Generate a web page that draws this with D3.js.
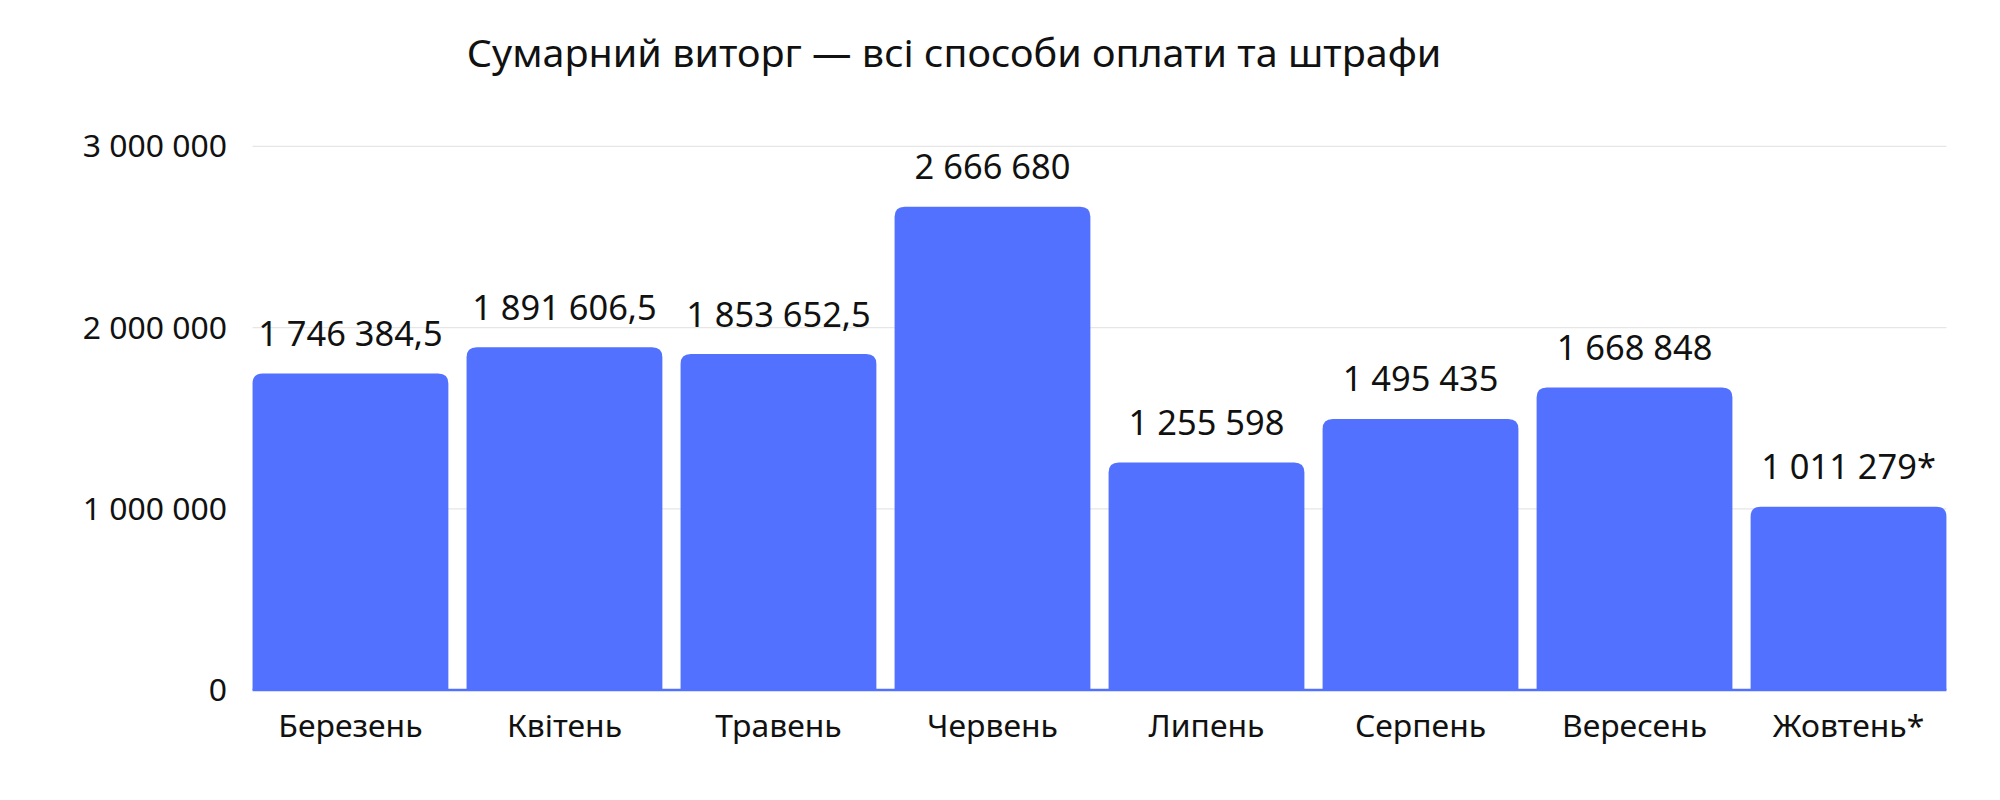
<!DOCTYPE html>
<html><head><meta charset="utf-8">
<script src="https://cdn.jsdelivr.net/npm/d3@7"></script>
<style>body{margin:0;background:#fff}svg{display:block}</style>
</head><body>
<svg id="chart" width="2000" height="800" viewBox="0 0 1568 640" preserveAspectRatio="none"></svg>
<script>
const months = ["Березень","Квітень","Травень","Червень","Липень","Серпень","Вересень","Жовтень*"];
const values = [1746384.5,1891606.5,1853652.5,2666680,1255598,1495435,1668848,1011279];
const labels = ["1 746 384,5","1 891 606,5","1 853 652,5","2 666 680","1 255 598","1 495 435","1 668 848","1 011 279*"];
const ticks = [0,1000000,2000000,3000000];

const svg = d3.select("#chart");
const font = "Noto Sans, sans-serif";
const plotLeft = 198, plotRight = 1526, plotTop = 117, plotBottom = 552;

let x = d3.scaleBand().domain(months).range([plotLeft,plotRight]).paddingInner(0.085).paddingOuter(0);
let y = d3.scaleLinear().domain([0,3000000]).range([plotBottom,plotTop]);

svg.append("text").attr("x",748).attr("y",54).attr("text-anchor","middle")
  .attr("font-family",font).attr("font-size",31).attr("fill","#111")
  .text("Сумарний виторг — всі способи оплати та штрафи");

// grid + y labels
const fmt = v => d3.format(",")(v).replace(/,/g," ");
ticks.forEach(t => {
  if (t>0) svg.append("line").attr("x1",plotLeft).attr("x2",plotRight).attr("y1",y(t)).attr("y2",y(t)).attr("stroke","#e6e6e6");
  svg.append("text").attr("x",178).attr("y",y(t)+9).attr("text-anchor","end")
    .attr("font-family",font).attr("font-size",25).attr("fill","#111").text(fmt(t));
});

// bars with rounded top corners
const r = 8;
svg.selectAll("path.bar").data(values).join("path").attr("fill","#5271FF")
  .attr("d",(d,i) => {
    const x0 = x(months[i]), w = x.bandwidth(), y0 = y(d);
    return `M${x0},${plotBottom}V${y0+r}Q${x0},${y0} ${x0+r},${y0}H${x0+w-r}Q${x0+w},${y0} ${x0+w},${y0+r}V${plotBottom}Z`;
  });

svg.append("line").attr("x1",plotLeft).attr("x2",plotRight).attr("y1",plotBottom).attr("y2",plotBottom).attr("stroke","#5271FF").attr("stroke-width",2);

svg.selectAll("text.val").data(values).join("text").attr("class","val")
  .attr("x",(d,i)=>x(months[i])+x.bandwidth()/2).attr("y",d=>y(d)-22)
  .attr("text-anchor","middle").attr("font-family",font).attr("font-size",27).attr("fill","#111")
  .text((d,i)=>labels[i]);

svg.selectAll("text.cat").data(months).join("text").attr("class","cat")
  .attr("x",d=>x(d)+x.bandwidth()/2).attr("y",590)
  .attr("text-anchor","middle").attr("font-family",font).attr("font-size",25).attr("fill","#111")
  .text(d=>d);
</script>
</body></html>
